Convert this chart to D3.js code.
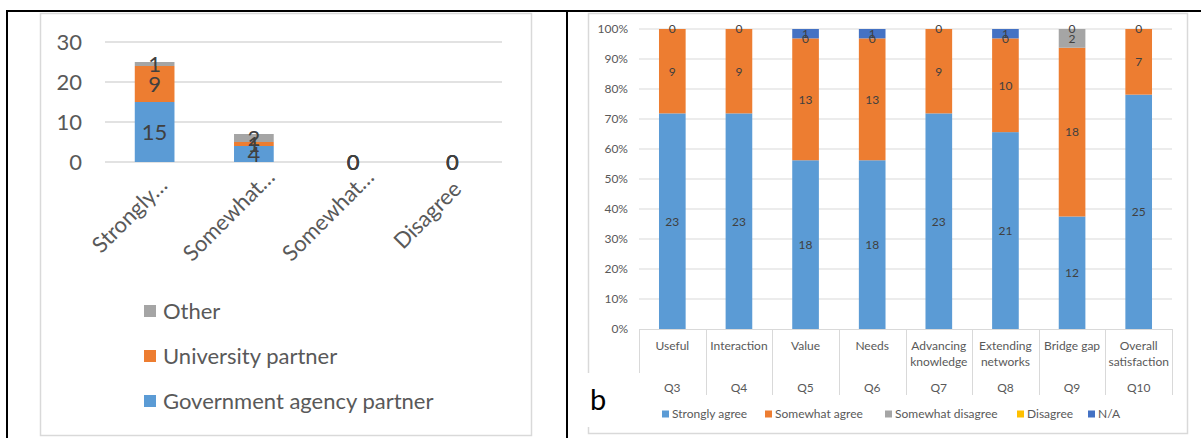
<!DOCTYPE html>
<html>
<head>
<meta charset="utf-8">
<script src="https://cdn.jsdelivr.net/npm/d3@7"></script>
<style>
  html, body { margin: 0; padding: 0; background: #fff; }
  svg { display: block; font-family: Lato, "Noto Sans", sans-serif; }
</style>
</head>
<body>
<svg id="fig" width="1203" height="438"></svg>
<script>
// ---- Panel a: respondents by partner type ----
const respCategories = ["Strongly agree", "Somewhat agree", "Somewhat disagree", "Disagree"];
const respTickLabels = ["Strongly…", "Somewhat…", "Somewhat…", "Disagree"];
const govPartner = [15, 4, 0, 0];
const uniPartner = [9, 1, 0, 0];
const otherPartner = [1, 2, 0, 0];
const respTicks = [0, 10, 20, 30];
const partnerNames = ["Government agency partner", "University partner", "Other"];

// ---- Panel b: responses per question ----
const questions = ["Q3", "Q4", "Q5", "Q6", "Q7", "Q8", "Q9", "Q10"];
const questionNames = ["Useful", "Interaction", "Value", "Needs", "Advancing knowledge",
                       "Extending networks", "Bridge gap", "Overall satisfaction"];
const stronglyAgree    = [23, 23, 18, 18, 23, 21, 12, 25];
const somewhatAgree    = [9, 9, 13, 13, 9, 10, 18, 7];
const somewhatDisagree = [0, 0, 0, 0, 0, 0, 2, 0];
const disagree         = [0, 0, 0, 0, 0, 0, 0, 0];
const notApplicable    = [0, 0, 1, 1, 0, 1, 0, 0];
const answerNames = ["Strongly agree", "Somewhat agree", "Somewhat disagree", "Disagree", "N/A"];
const pctTicks = [0, 0.1, 0.2, 0.3, 0.4, 0.5, 0.6, 0.7, 0.8, 0.9, 1];

const svg = d3.select("#fig");
const GRID = "#d9d9d9", AXIS_TXT = "#595959", LABEL_TXT = "#404040";
const BIG = "22px", SMALL = "12px";

// ---------- chart frames ----------
svg.append("rect").attr("x", 40.5).attr("y", 13.5).attr("width", 491).attr("height", 422)
  .attr("fill", "none").attr("stroke", GRID).attr("stroke-width", 1.5);
svg.append("rect").attr("x", 588.5).attr("y", 13.5).attr("width", 599).attr("height", 420)
  .attr("fill", "none").attr("stroke", GRID).attr("stroke-width", 1.5);

// ================= Panel a =================
{
  const colors = ["#5b9bd5", "#ed7d31", "#a5a5a5"];
  const x = d3.scaleBand().domain(d3.range(respCategories.length)).range([105, 502]).paddingInner(0.6).paddingOuter(0.3);
  const y = d3.scaleLinear().domain([0, 30]).range([162, 42]);
  const g = svg.append("g");

  g.selectAll("line.grid").data(respTicks).join("line")
    .attr("x1", 105).attr("x2", 502)
    .attr("y1", d => y(d)).attr("y2", d => y(d))
    .attr("stroke", GRID).attr("stroke-width", 1.5);

  const yAxis = d3.axisLeft(y).tickValues(respTicks).tickSize(0).tickPadding(0);
  const ya = g.append("g").attr("transform", "translate(82,0)").call(yAxis);
  ya.select(".domain").remove();
  ya.selectAll("text").attr("fill", AXIS_TXT).style("font-size", BIG).style("font-family", "Lato, sans-serif");

  const rows = respCategories.map((c, i) => ({ i, gov: govPartner[i], uni: uniPartner[i], oth: otherPartner[i] }));
  const stack = d3.stack().keys(["gov", "uni", "oth"])(rows);

  stack.forEach((s, k) => {
    g.selectAll(null).data(s).join("rect")
      .attr("x", d => x(d.data.i))
      .attr("width", x.bandwidth())
      .attr("y", d => y(d[1]))
      .attr("height", d => y(d[0]) - y(d[1]))
      .attr("fill", colors[k]);
  });
  stack.forEach((s, k) => {
    g.selectAll(null).data(s).join("text")
      .attr("x", d => x(d.data.i) + x.bandwidth() / 2)
      .attr("y", d => (y(d[0]) + y(d[1])) / 2)
      .attr("dy", "0.36em")
      .attr("text-anchor", "middle")
      .attr("fill", LABEL_TXT).style("font-size", BIG)
      .text(d => d[1] - d[0]);
  });

  // rotated category labels, each centred on a point below its bar
  g.selectAll("text.cat").data(respTickLabels).join("text")
    .attr("class", "cat")
    .attr("transform", (d, i) => `translate(${x(i) + x.bandwidth() / 2 - 25},${215}) rotate(-45)`)
    .attr("text-anchor", "middle")
    .attr("dy", "0.35em")
    .attr("fill", AXIS_TXT).style("font-size", BIG)
    .text(d => d);

  // legend (top series listed first)
  const legendOrder = [2, 1, 0];
  const lg = g.selectAll("g.leg").data(legendOrder).join("g")
    .attr("transform", (d, j) => `translate(144,${311 + j * 45})`);
  lg.append("rect").attr("x", 0).attr("y", -6).attr("width", 12).attr("height", 12).attr("fill", d => colors[d]);
  lg.append("text").attr("x", 19).attr("dy", "0.36em").attr("fill", AXIS_TXT).style("font-size", BIG)
    .text(d => partnerNames[d]);
}

// ================= Panel b =================
{
  const colors = ["#5b9bd5", "#ed7d31", "#a5a5a5", "#ffc000", "#4472c4"];
  const keys = ["sa", "swa", "swd", "d", "na"];
  const x = d3.scaleBand().domain(questions).range([639, 1172]).paddingInner(0.6).paddingOuter(0.3);
  const y = d3.scaleLinear().domain([0, 1]).range([329, 29]);
  const g = svg.append("g");

  g.selectAll("line.grid").data(pctTicks.slice(1)).join("line")
    .attr("x1", 639).attr("x2", 1172)
    .attr("y1", d => y(d)).attr("y2", d => y(d))
    .attr("stroke", GRID).attr("stroke-width", 1);

  const yAxis = d3.axisLeft(y).tickValues(pctTicks).tickFormat(d3.format(".0%")).tickSize(0).tickPadding(0);
  const ya = g.append("g").attr("transform", "translate(628,0)").call(yAxis);
  ya.select(".domain").remove();
  ya.selectAll("text").attr("fill", AXIS_TXT).style("font-size", SMALL).style("font-family", "Lato, sans-serif");

  const rows = questions.map((q, i) => ({
    q, sa: stronglyAgree[i], swa: somewhatAgree[i], swd: somewhatDisagree[i], d: disagree[i], na: notApplicable[i]
  }));
  const stack = d3.stack().keys(keys).offset(d3.stackOffsetExpand)(rows);

  stack.forEach((s, k) => {
    g.selectAll(null).data(s).join("rect")
      .attr("x", d => x(d.data.q))
      .attr("width", x.bandwidth())
      .attr("y", d => y(d[1]))
      .attr("height", d => y(d[0]) - y(d[1]))
      .attr("fill", colors[k]);
  });
  // value labels; zero counts shown for the Disagree series only
  stack.forEach((s, k) => {
    const key = keys[k];
    g.selectAll(null).data(s.filter(d => d.data[key] !== 0 || key === "d")).join("text")
      .attr("x", d => x(d.data.q) + x.bandwidth() / 2)
      .attr("y", d => (y(d[0]) + y(d[1])) / 2)
      .attr("dy", "0.36em")
      .attr("text-anchor", "middle")
      .attr("fill", LABEL_TXT).style("font-size", SMALL)
      .text(d => d.data[key]);
  });

  // two-level category axis
  const step = x.step();
  const edges = d3.range(questions.length + 1).map(i => 639 + i * step);
  g.append("line").attr("x1", 639).attr("x2", 1172).attr("y1", 329.5).attr("y2", 329.5)
    .attr("stroke", GRID).attr("stroke-width", 1);
  g.selectAll("line.sep").data(edges).join("line")
    .attr("x1", d => Math.round(d) + 0.5).attr("x2", d => Math.round(d) + 0.5)
    .attr("y1", 329).attr("y2", 395)
    .attr("stroke", GRID).attr("stroke-width", 1);

  const nameG = g.selectAll("text.qname").data(questionNames).join("text")
    .attr("class", "qname")
    .attr("text-anchor", "middle")
    .attr("fill", AXIS_TXT).style("font-size", SMALL);
  nameG.each(function (d, i) {
    const t = d3.select(this);
    const cx = x(questions[i]) + x.bandwidth() / 2;
    const words = d.split(" ");
    // wrap names that do not fit in one category cell
    t.text(d);
    let lines = [d];
    if (this.getComputedTextLength() > step - 4 && words.length > 1) lines = words;
    t.text(null);
    lines.forEach((ln, j) => {
      t.append("tspan").attr("x", cx).attr("y", 346 + j * 16).attr("dy", "0.36em").text(ln);
    });
  });
  g.selectAll("text.q").data(questions).join("text")
    .attr("class", "q")
    .attr("x", d => x(d) + x.bandwidth() / 2)
    .attr("y", 388).attr("dy", "0.36em")
    .attr("text-anchor", "middle")
    .attr("fill", AXIS_TXT).style("font-size", SMALL)
    .text(d => d);

  // legend
  const legX = [662, 765, 885, 1017, 1088];
  const lg = g.selectAll("g.leg").data(answerNames).join("g")
    .attr("transform", (d, i) => `translate(${legX[i]},414)`);
  lg.append("rect").attr("x", 0).attr("y", -3.5).attr("width", 7).attr("height", 7).attr("fill", (d, i) => colors[i]);
  lg.append("text").attr("x", 10).attr("dy", "0.36em").attr("fill", AXIS_TXT).style("font-size", SMALL).text(d => d);

  // panel tag
  svg.append("rect").attr("x", 583).attr("y", 373).attr("width", 62).attr("height", 54).attr("fill", "#fff");
  svg.append("text").attr("x", 590).attr("y", 410).attr("fill", "#000").style("font-size", "29px")
    .style("font-family", "Lato, sans-serif").text("b");
}

// black table rules drawn last
svg.append("line").attr("x1", 6).attr("x2", 1201).attr("y1", 11).attr("y2", 11).attr("stroke", "#000").attr("stroke-width", 2);
svg.append("line").attr("x1", 7).attr("x2", 7).attr("y1", 10).attr("y2", 438).attr("stroke", "#000").attr("stroke-width", 2);
svg.append("line").attr("x1", 567).attr("x2", 567).attr("y1", 10).attr("y2", 438).attr("stroke", "#000").attr("stroke-width", 2);
</script>
</body>
</html>
